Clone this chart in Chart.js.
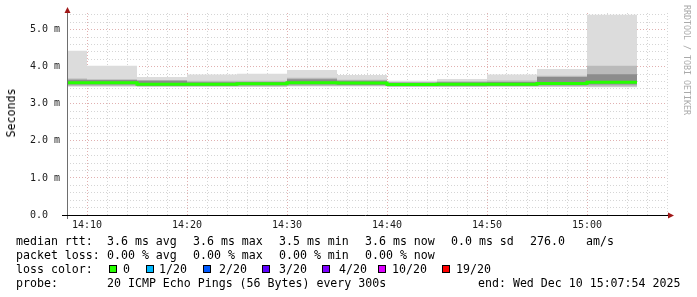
<!DOCTYPE html>
<html>
<head>
<meta charset="utf-8">
<title>SmokePing</title>
<script src="https://cdn.jsdelivr.net/npm/chart.js@4.4.1/dist/chart.umd.min.js"></script>
<style>
  html, body { margin: 0; padding: 0; background: #fff; }
  #wrap { position: relative; width: 697px; height: 297px; overflow: hidden; }
  #wrap canvas { position: absolute; left: 0; top: 0; }
  .t { position: absolute; font-family: "DejaVu Sans Mono", monospace; font-size: 11.6px; line-height: 14px; color: #000; white-space: pre; }
  .sq { position: absolute; top: 265px; width: 6px; height: 6px; border: 1px solid #000; }
  #ytitle { position: absolute; left: 11px; top: 113px; transform: translate(-50%, -50%) rotate(-90deg);
            font-family: "DejaVu Sans Mono", monospace; font-size: 11.6px; line-height: 12px; white-space: pre; color: #000; }
  #credit { position: absolute; left: 682px; top: 5px; writing-mode: vertical-rl; font-family: "DejaVu Sans Mono", monospace;
            font-size: 8.3px; line-height: 10px; color: #aaa; white-space: pre; }
</style>
</head>
<body>
<div id="wrap">
  <canvas id="myChart" width="697" height="297"></canvas>
  <div id="ytitle">Seconds</div>
  <div id="credit">RRDTOOL / TOBI OETIKER</div>

  <span class="t" style="left:16px;top:234px">median rtt:</span>
  <span class="t" style="left:107px;top:234px">3.6 ms avg</span>
  <span class="t" style="left:193px;top:234px">3.6 ms max</span>
  <span class="t" style="left:279px;top:234px">3.5 ms min</span>
  <span class="t" style="left:365px;top:234px">3.6 ms now</span>
  <span class="t" style="left:451px;top:234px">0.0 ms sd</span>
  <span class="t" style="left:530px;top:234px">276.0</span>
  <span class="t" style="left:586px;top:234px">am/s</span>

  <span class="t" style="left:16px;top:248px">packet loss:</span>
  <span class="t" style="left:107px;top:248px">0.00 % avg</span>
  <span class="t" style="left:193px;top:248px">0.00 % max</span>
  <span class="t" style="left:279px;top:248px">0.00 % min</span>
  <span class="t" style="left:365px;top:248px">0.00 % now</span>

  <span class="t" style="left:16px;top:262px">loss color:</span>
  <div id="lossLegend"></div>

  <span class="t" style="left:16px;top:276px">probe:</span>
  <span class="t" style="left:107px;top:276px">20 ICMP Echo Pings (56 Bytes) every 300s</span>
  <span class="t" style="left:478px;top:276px">end: Wed Dec 10 15:07:54 2025</span>
</div>
<script>
// 5 minute rrd steps, value = median / smoke percentiles in ms
const blockStart = ["14:05", "14:10", "14:15", "14:20", "14:25", "14:30", "14:35", "14:40", "14:45", "14:50", "14:55", "15:00"];
const blockMinutes = 5;

const pingMax   = [4.43, 4.03, 3.72, 3.79, 3.81, 3.91, 3.78, 3.62, 3.67, 3.79, 3.94, 5.40];
const pingHi2   = [3.68, 3.66, 3.64, 3.62, 3.62, 3.70, 3.65, 3.59, 3.61, 3.63, 3.76, 4.03];
const pingHi1   = [3.65, 3.64, 3.62, 3.58, 3.59, 3.66, 3.62, 3.57, 3.58, 3.59, 3.72, 3.80];
const medianRtt = [3.57, 3.57, 3.53, 3.53, 3.54, 3.57, 3.56, 3.52, 3.53, 3.53, 3.55, 3.58];
const pingLo1   = [3.52, 3.52, 3.49, 3.49, 3.50, 3.52, 3.51, 3.48, 3.49, 3.49, 3.50, 3.52];
const pingLo2   = [3.48, 3.48, 3.47, 3.47, 3.47, 3.48, 3.48, 3.46, 3.46, 3.47, 3.47, 3.47];
const pingMin   = [3.46, 3.46, 3.46, 3.46, 3.46, 3.47, 3.47, 3.46, 3.46, 3.46, 3.46, 3.45];

const xTickLabels = ["14:10", "14:20", "14:30", "14:40", "14:50", "15:00"];
const yTickLabels = ["0.0  ", "1.0 m", "2.0 m", "3.0 m", "4.0 m", "5.0 m"];

const lossLabels = ["0", "1/20", "2/20", "3/20", "4/20", "10/20", "19/20"];
const lossColors = ["#26ff00", "#00b8ff", "#0059ff", "#5e00ff", "#7e00ff", "#dd00ff", "#ff0000"];

const viewStart = "14:08";
const viewEnd = "15:08";
const yMax = 5.45;

const toMin = (s) => {
  const [h, m] = s.split(":").map(Number);
  return h * 60 + m;
};
const fmtMin = (v) => {
  const h = Math.floor(v / 60);
  const m = v % 60;
  return h + ":" + String(m).padStart(2, "0");
};

// stepped series: one point per block start plus the end of the last block
const steps = (values) => {
  const pts = blockStart.map((t, i) => ({ x: toMin(t), y: values[i] }));
  pts.push({ x: toMin(blockStart[blockStart.length - 1]) + blockMinutes, y: values[values.length - 1] });
  return pts;
};

// loss colour legend
const squareLeft = [109, 146, 203, 262, 322, 378, 442];
const labelLeft = [123, 159, 219, 279, 339, 392, 456];
const lossLegend = document.getElementById("lossLegend");
lossLabels.forEach((label, i) => {
  const sq = document.createElement("div");
  sq.className = "sq";
  sq.style.left = squareLeft[i] + "px";
  sq.style.background = lossColors[i];
  lossLegend.appendChild(sq);
  const tx = document.createElement("span");
  tx.className = "t";
  tx.style.left = labelLeft[i] + "px";
  tx.style.top = "262px";
  tx.textContent = label;
  lossLegend.appendChild(tx);
});

const band = (values, fillColor, order) => ({
  data: steps(values),
  stepped: true,
  borderWidth: 0,
  borderColor: "transparent",
  backgroundColor: fillColor,
  pointRadius: 0,
  fill: "+1",
  order
});
const edge = (values, order) => ({
  data: steps(values),
  stepped: true,
  borderWidth: 0,
  borderColor: "transparent",
  pointRadius: 0,
  fill: false,
  order
});

const axisArrows = {
  id: "axisArrows",
  afterDraw(chart) {
    const { ctx, chartArea: a } = chart;
    ctx.save();
    ctx.lineWidth = 1;
    ctx.strokeStyle = "#6e6e6e";
    ctx.beginPath();
    ctx.moveTo(a.left + 0.5, a.bottom + 4);
    ctx.lineTo(a.left + 0.5, a.top - 4);
    ctx.stroke();
    ctx.strokeStyle = "#000";
    ctx.beginPath();
    ctx.moveTo(a.left - 5, a.bottom + 0.5);
    ctx.lineTo(a.right + 2, a.bottom + 0.5);
    ctx.stroke();
    ctx.fillStyle = "#a01818";
    ctx.beginPath();
    ctx.moveTo(a.left + 0.5, a.top - 6);
    ctx.lineTo(a.left - 2.5, a.top);
    ctx.lineTo(a.left + 3.5, a.top);
    ctx.closePath();
    ctx.fill();
    ctx.beginPath();
    ctx.moveTo(a.right + 7, a.bottom + 0.5);
    ctx.lineTo(a.right + 1, a.bottom - 2.5);
    ctx.lineTo(a.right + 1, a.bottom + 3.5);
    ctx.closePath();
    ctx.fill();
    ctx.restore();
  }
};

const gridColor = (major) => (major ? "rgba(215,150,150,0.75)" : "rgba(195,195,195,0.7)");

new Chart(document.getElementById("myChart").getContext("2d"), {
  type: "line",
  data: {
    datasets: [
      {
        data: steps(medianRtt),
        stepped: true,
        borderColor: lossColors[0],
        borderWidth: 3,
        pointRadius: 0,
        fill: false,
        order: 0
      },
      band(pingHi1, "#8c8c8c", 1),
      edge(pingLo1, 1),
      band(pingHi2, "#bababa", 2),
      edge(pingLo2, 2),
      band(pingMax, "#dcdcdc", 3),
      edge(pingMin, 3)
    ]
  },
  options: {
    responsive: false,
    animation: false,
    events: [],
    layout: { padding: { left: 0, top: 13, right: 30, bottom: 60 } },
    plugins: {
      legend: { display: false },
      tooltip: { enabled: false }
    },
    scales: {
      x: {
        type: "linear",
        z: 1,
        min: toMin(viewStart),
        max: toMin(viewEnd),
        afterFit: (scale) => { scale.height = 22; },
        border: { display: false, dash: [1, 2] },
        grid: {
          drawTicks: false,
          color: (c) => gridColor(c.tick && c.tick.value % 10 === 0)
        },
        ticks: {
          stepSize: 2,
          autoSkip: false,
          maxRotation: 0,
          padding: 4,
          color: "#1a1a1a",
          font: { family: "DejaVu Sans Mono", size: 10 },
          callback: (value) => (xTickLabels.includes(fmtMin(value)) ? fmtMin(value) : "")
        }
      },
      y: {
        z: 1,
        min: 0,
        max: yMax,
        afterFit: (scale) => { scale.width = 67; },
        border: { display: false, dash: [1, 2] },
        grid: {
          drawTicks: false,
          color: (c) => gridColor(c.tick && Math.abs(c.tick.value - Math.round(c.tick.value)) < 1e-6)
        },
        ticks: {
          stepSize: 0.2,
          includeBounds: false,
          autoSkip: false,
          padding: 7,
          color: "#1a1a1a",
          font: { family: "DejaVu Sans Mono", size: 10 },
          callback: (value) => {
            const r = Math.round(value);
            return Math.abs(value - r) < 1e-6 && yTickLabels[r] ? yTickLabels[r] : "";
          }
        }
      }
    }
  },
  plugins: [axisArrows]
});
</script>
</body>
</html>
